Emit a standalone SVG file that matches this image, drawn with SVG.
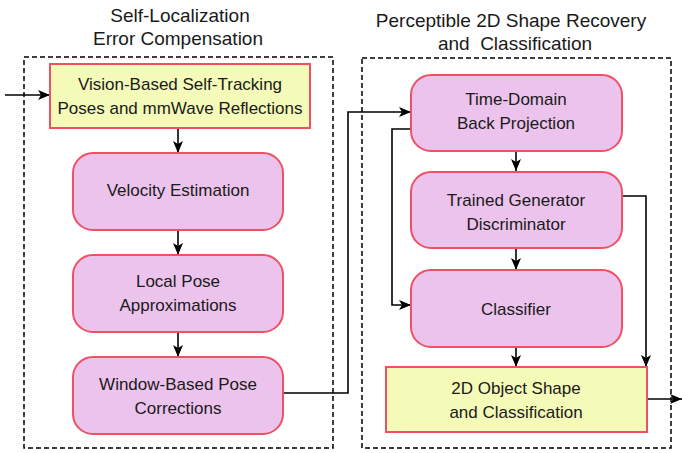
<svg xmlns="http://www.w3.org/2000/svg" width="682" height="453" viewBox="0 0 682 453">
<defs>
<marker id="ah" markerWidth="12" markerHeight="10" refX="12" refY="5" orient="auto" markerUnits="userSpaceOnUse">
<path d="M0,0 L12,5 L0,10 L3,5 Z" fill="#000"/>
</marker>
</defs>
<style>
text{font-family:"Liberation Sans",Arial,sans-serif;fill:#1a1a1a;text-anchor:middle}
.t{font-size:19px}
.n{font-size:17px}
.grp{fill:none;stroke:#000;stroke-width:1.5;stroke-dasharray:5,3}
.pink{fill:#ecc3ec;stroke:#ef5064;stroke-width:2}
.yel{fill:#f4fab7;stroke:#ef5064;stroke-width:2}
.c{fill:none;stroke:#000;stroke-width:1.6;marker-end:url(#ah)}
</style>
<rect width="682" height="453" fill="#fff"/>
<g id="group-left">
<rect class="grp" x="24" y="57" width="309" height="391"/>
<text class="t" x="180" y="22">Self-Localization</text>
<text class="t" x="178" y="45">Error Compensation</text>
</g>
<g id="group-right">
<rect class="grp" x="362" y="58" width="309" height="390"/>
<text class="t" x="511" y="27">Perceptible 2D Shape Recovery</text>
<text class="t" x="515" y="50" xml:space="preserve">and  Classification</text>
</g>
<g id="connectors">
<path class="c" d="M5,95 L50,95"/>
<path class="c" d="M178,128 L178,153"/>
<path class="c" d="M178,230 L178,255"/>
<path class="c" d="M178,332 L178,357"/>
<path class="c" d="M283,393 L348,393 L348,112 L411,112"/>
<path class="c" d="M516,151 L516,171"/>
<path class="c" d="M516,248 L516,270"/>
<path class="c" d="M516,347 L516,367"/>
<path class="c" d="M411,129 L392,129 L392,305 L411,305"/>
<path class="c" d="M622,196 L646,196 L646,367"/>
<path class="c" d="M647,399 L682,399"/>
</g>
<g id="vision">
<rect class="yel" x="50" y="64" width="260" height="64"/>
<text class="n" x="180" y="90">Vision-Based Self-Tracking</text>
<text class="n" x="180" y="114">Poses and mmWave Reflections</text>
</g>
<g id="velocity">
<rect class="pink" x="73" y="153" width="210" height="77" rx="20"/>
<text class="n" x="178" y="196">Velocity Estimation</text>
</g>
<g id="local-pose">
<rect class="pink" x="73" y="255" width="210" height="77" rx="20"/>
<text class="n" x="178" y="287">Local Pose</text>
<text class="n" x="178" y="311">Approximations</text>
</g>
<g id="window-pose">
<rect class="pink" x="73" y="357" width="210" height="77" rx="20"/>
<text class="n" x="178" y="390">Window-Based Pose</text>
<text class="n" x="178" y="414">Corrections</text>
</g>
<g id="time-domain">
<rect class="pink" x="411" y="75" width="211" height="76" rx="20"/>
<text class="n" x="516" y="105">Time-Domain</text>
<text class="n" x="516" y="129">Back Projection</text>
</g>
<g id="trained">
<rect class="pink" x="411" y="172" width="211" height="76" rx="20"/>
<text class="n" x="516" y="206">Trained Generator</text>
<text class="n" x="516" y="230">Discriminator</text>
</g>
<g id="classifier">
<rect class="pink" x="411" y="270" width="211" height="77" rx="20"/>
<text class="n" x="516" y="315">Classifier</text>
</g>
<g id="output">
<rect class="yel" x="386" y="367" width="261" height="65"/>
<text class="n" x="516" y="394">2D Object Shape</text>
<text class="n" x="516" y="418">and Classification</text>
</g>
</svg>
